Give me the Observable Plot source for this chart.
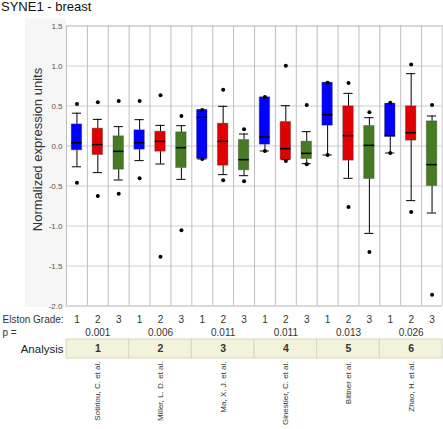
<!DOCTYPE html>
<html><head><meta charset="utf-8">
<script src="https://cdn.jsdelivr.net/npm/d3@7"></script>
<script src="https://cdn.jsdelivr.net/npm/@observablehq/plot@0.6"></script>
<style>body{margin:0;background:#fff} svg{display:block}</style>
</head><body><div id="chart"></div>
<script>
const chartTitle = "SYNE1 - breast";
const yLabel = "Normalized expression units";
const studies = ["Sotiriou, C. et al.", "Miller, L. D. et al.", "Ma, X. J. et al.", "Ginestier, C. et al.", "Bittner et al.", "Zhao, H. et al."];
const analysisIds = ["1", "2", "3", "4", "5", "6"];
const pValues = ["0.001", "0.006", "0.011", "0.011", "0.013", "0.026"];
const grades = ["1", "2", "3"];
const gradeColors = ["#0000ff", "#e00000", "#467a23"];
const yTicks = [-2, -1.5, -1, -0.5, 0, 0.5, 1, 1.5];

// one value per box: study-major, grade-minor
const whiskerLow  = [-0.26, -0.333, -0.425, -0.183, -0.225, -0.417, -0.1625, -0.358, -0.371, -0.0625, -0.171, -0.221, -0.1125, -0.404, -1.092, -0.0875, -0.683, -0.8375];
const quart1      = [-0.054, -0.1125, -0.296, -0.046, -0.071, -0.275, -0.1625, -0.246, -0.304, 0.017, -0.171, -0.1625, 0.254, -0.183, -0.4125, 0.115, 0.067, -0.5];
const medians     = [0.04, 0.017, -0.067, 0.042, 0.058, -0.021, 0.358, 0.058, -0.171, 0.1125, -0.033, -0.092, 0.392, 0.129, 0.008, 0.13, 0.167, -0.233];
const quart3      = [0.27, 0.217, 0.121, 0.196, 0.179, 0.171, 0.45, 0.279, 0.075, 0.608, 0.3, 0.054, 0.79, 0.496, 0.25, 0.529, 0.496, 0.308];
const whiskerHigh = [0.41, 0.333, 0.242, 0.329, 0.258, 0.254, 0.45, 0.496, 0.15, 0.608, 0.504, 0.179, 0.79, 0.658, 0.354, 0.529, 0.904, 0.375];
const pointHigh   = [0.525, 0.546, 0.5625, 0.5625, 0.633, 0.375, 0.45, 0.704, 0.208, 0.6125, 1.004, 0.5125, 0.79, 0.7875, 0.421, 0.542, 1.02, 0.5125];
const pointLow    = [-0.46, -0.625, -0.596, -0.404, -1.383, -1.054, -0.1625, -0.429, -0.442, -0.0625, -0.1875, -0.229, -0.1125, -0.7625, -1.325, -0.0875, -0.825, -1.858];

const boxes = whiskerLow.map((_, i) => ({
  i, grade: grades[i % 3], color: gradeColors[i % 3],
  lo: whiskerLow[i], q1: quart1[i], med: medians[i], q3: quart3[i], hi: whiskerHigh[i]
}));
const points = [
  ...pointHigh.map((v, i) => ({i, v})),
  ...pointLow.map((v, i) => ({i, v}))
];
const groups = studies.map((s, g) => ({g, study: s, id: analysisIds[g], p: pValues[g]}));
const nCols = boxes.length;

const font = "'Liberation Sans', Arial, Helvetica, sans-serif";

const chart = Plot.plot({
  width: 443, height: 429,
  marginLeft: 66, marginRight: 1, marginTop: 25.5, marginBottom: 123.5,
  x: {domain: [0, nCols], axis: null},
  y: {domain: [-2, 1.5], axis: null},
  color: {type: "identity"},
  style: {fontFamily: font, background: "#fff"},
  marks: [
    // light panel behind y tick labels
    Plot.rect([0], {fill: "#f6f6f6", insetLeft: -41, insetRight: 376, insetTop: -7, insetBottom: -1.5}),
    // grid
    Plot.ruleY(yTicks, {stroke: "#cdcdcd"}),
    Plot.ruleY([yTicks[0], yTicks[yTicks.length - 1]], {stroke: "#dadada", strokeWidth: 2}),
    Plot.ruleX(d3.range(nCols + 1), {stroke: "#bdbdbd"}),
    Plot.ruleX([nCols], {stroke: "#dadada", strokeWidth: 2}),
    // y tick labels
    Plot.text(yTicks, {y: d => d, text: d => d.toFixed(1), frameAnchor: "left", dx: -4, textAnchor: "end", fontSize: 8, fill: "#555"}),
    // whiskers
    Plot.ruleX(boxes, {x: d => d.i + 0.5, y1: "lo", y2: "q1", stroke: "#000"}),
    Plot.ruleX(boxes, {x: d => d.i + 0.5, y1: "q3", y2: "hi", stroke: "#000"}),
    Plot.ruleY(boxes, {y: "lo", x1: d => d.i + 0.28, x2: d => d.i + 0.72, stroke: "#000"}),
    Plot.ruleY(boxes, {y: "hi", x1: d => d.i + 0.28, x2: d => d.i + 0.72, stroke: "#000"}),
    // boxes
    Plot.rect(boxes, {x1: d => d.i + 0.25, x2: d => d.i + 0.75, y1: "q1", y2: "q3", fill: "color", stroke: "#333", strokeOpacity: 0.35, strokeWidth: 1}),
    Plot.ruleY(boxes, {y: "med", x1: d => d.i + 0.25, x2: d => d.i + 0.75, stroke: "#000", strokeWidth: 1.5}),
    // outlier points
    Plot.dot(points, {x: d => d.i + 0.5, y: "v", r: 2, fill: "#000", stroke: "none"}),
    // title and y label
    Plot.text([chartTitle], {frameAnchor: "top-left", dx: -65.5, dy: -19.5, textAnchor: "start", lineAnchor: "middle", fontSize: 13, fill: "#111"}),
    Plot.text([yLabel], {frameAnchor: "left", dx: -29, dy: -16.5, rotate: -90, textAnchor: "middle", lineAnchor: "middle", fontSize: 13, fill: "#333"}),
    // bottom table
    Plot.text(["Elston Grade:"], {frameAnchor: "bottom-left", dx: -64, dy: 13.5, textAnchor: "start", lineAnchor: "middle", fontSize: 10, fill: "#333"}),
    Plot.text(boxes, {x: d => d.i + 0.5, text: "grade", frameAnchor: "bottom", dy: 13.5, lineAnchor: "middle", fontSize: 10, fill: "#333"}),
    Plot.text(["p ="], {frameAnchor: "bottom-left", dx: -64, dy: 26.5, textAnchor: "start", lineAnchor: "middle", fontSize: 10, fill: "#333"}),
    Plot.text(groups, {x: d => d.g * 3 + 1.5, text: "p", frameAnchor: "bottom", dy: 26.5, lineAnchor: "middle", fontSize: 10, fill: "#333"}),
    Plot.rect(groups, {x1: d => d.g * 3, x2: d => d.g * 3 + 3, fill: "#f3f3dc", stroke: "#d8d8c2", insetTop: 313.5, insetBottom: -52.5}),
    Plot.text(["Analysis"], {frameAnchor: "bottom-left", dx: -3, dy: 43, textAnchor: "end", lineAnchor: "middle", fontSize: 11.5, fill: "#222"}),
    Plot.text(groups, {x: d => d.g * 3 + 1.5, text: "id", frameAnchor: "bottom", dy: 43, lineAnchor: "middle", fontSize: 10.5, fontWeight: "bold", fill: "#333"}),
    Plot.text(groups, {x: d => d.g * 3 + 1.5, text: "study", frameAnchor: "bottom", dy: 55.5, rotate: -90, textAnchor: "end", lineAnchor: "middle", fontSize: 8, fill: "#333"})
  ]
});
document.getElementById("chart").append(chart);
</script>
</body></html>
